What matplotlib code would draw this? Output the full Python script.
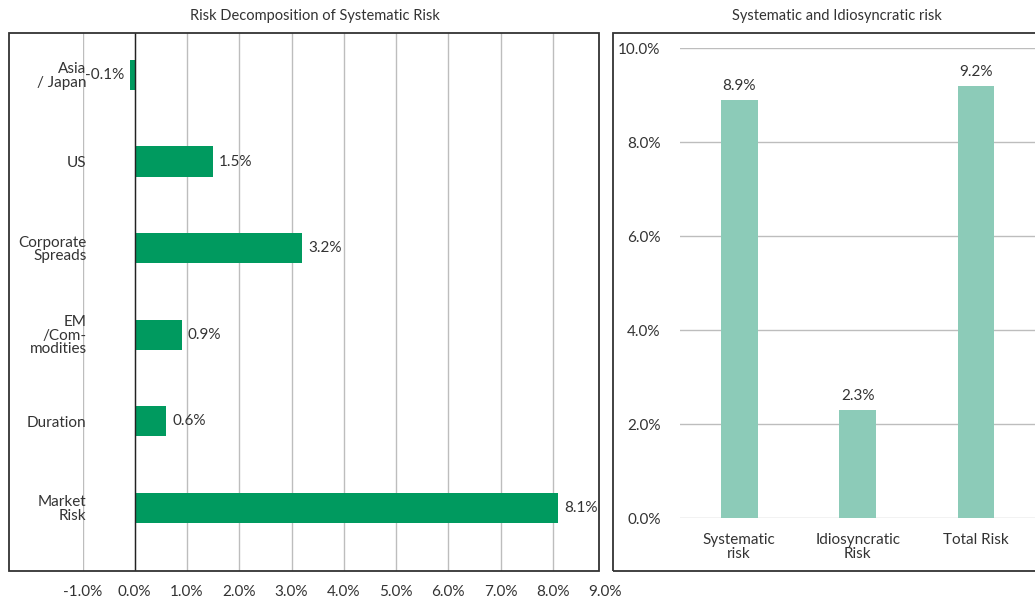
import matplotlib.pyplot as plt
from matplotlib.patches import Rectangle

# Risk decomposition data (in %)
factors = ["Asia\n/ Japan", "US", "Corporate\nSpreads", "EM\n/Com-\nmodities", "Duration", "Market\nRisk"]
factor_risk = [-0.1, 1.5, 3.2, 0.9, 0.6, 8.1]
x_ticks = [-1, 0, 1, 2, 3, 4, 5, 6, 7, 8, 9]

risk_types = ["Systematic\nrisk", "Idiosyncratic\nRisk", "Total Risk"]
risk_values = [8.9, 2.3, 9.2]
y_ticks = [0, 2, 4, 6, 8, 10]

plt.rcParams['font.family'] = ['Lato', 'DejaVu Sans']
plt.rcParams['font.size'] = 11
text_col = '#333333'
grid_col = '#bdbdbd'

W, H = 1035, 598
fig = plt.figure(figsize=(W / 100, H / 100), dpi=100)

def box(x0, y0, x1, y1):
    # pixel box (top-left origin) -> figure fraction rect
    return [x0 / W, 1 - y1 / H, (x1 - x0) / W, (y1 - y0) / H]

# outer frames around each chart
for x0, x1 in [(9, 599), (613, 1045)]:
    fig.add_artist(Rectangle((x0 / W, 1 - 571 / H), (x1 - x0) / W, (571 - 33) / H,
                             transform=fig.transFigure, fill=False,
                             edgecolor='#333333', lw=1.3, clip_on=False))

# ---- left: horizontal bars
ax1 = fig.add_axes(box(82.5, 33, 605, 571))
ypos = list(range(len(factors)))
ax1.barh(ypos, factor_risk, height=0.35, color='#009a5f', zorder=3)
ax1.set_xlim(-1, 9)
ax1.set_ylim(5.73, -0.485)
ax1.set_xticks(x_ticks)
ax1.set_xticklabels([f"{v:.1f}%" for v in x_ticks], color=text_col)
ax1.set_yticks(ypos)
ax1.set_yticklabels(factors, color=text_col, linespacing=0.95)
ax1.tick_params(axis='x', length=0, pad=10)
ax1.tick_params(axis='y', length=0, pad=-3)
ax1.grid(axis='x', color=grid_col, lw=1, zorder=0)
ax1.xaxis.get_gridlines()[-1].set_visible(False)
ax1.axvline(0, color='#222222', lw=1, zorder=4)
for s in ax1.spines.values():
    s.set_visible(False)
for y, v in zip(ypos, factor_risk):
    ha = 'left' if v >= 0 else 'right'
    off = 6 if v >= 0 else -5
    ax1.annotate(f"{v:.1f}%", (v, y), xytext=(off, 0), textcoords='offset pixels',
                 ha=ha, va='center', color=text_col, zorder=5)
fig.text(315 / W, 1 - 16 / H, "Risk Decomposition of Systematic Risk",
         ha='center', va='center', color=text_col, fontsize=10.5)

# ---- right: vertical bars
ax2 = fig.add_axes(box(680, 48, 1040, 518))
xpos = list(range(len(risk_types)))
ax2.bar(xpos, risk_values, width=0.31, color='#8ccbb8', zorder=3)
ax2.set_xlim(-0.5, 2.54)
ax2.set_ylim(0, 10)
ax2.set_yticks(y_ticks)
ax2.set_yticklabels([f"{v:.1f}%" for v in y_ticks], color=text_col)
ax2.set_xticks(xpos)
ax2.set_xticklabels(risk_types, color=text_col, linespacing=1.0)
ax2.tick_params(axis='y', length=0, pad=14)
ax2.tick_params(axis='x', length=0, pad=11)
ax2.grid(axis='y', color=grid_col, lw=1, zorder=0)
for s in ax2.spines.values():
    s.set_visible(False)
for x, v in zip(xpos, risk_values):
    ax2.annotate(f"{v:.1f}%", (x, v), xytext=(0, 7), textcoords='offset pixels',
                 ha='center', va='bottom', color=text_col)
fig.text(837 / W, 1 - 16 / H, "Systematic and Idiosyncratic risk",
         ha='center', va='center', color=text_col, fontsize=10.5)

fig.savefig("out.png", dpi=100)
